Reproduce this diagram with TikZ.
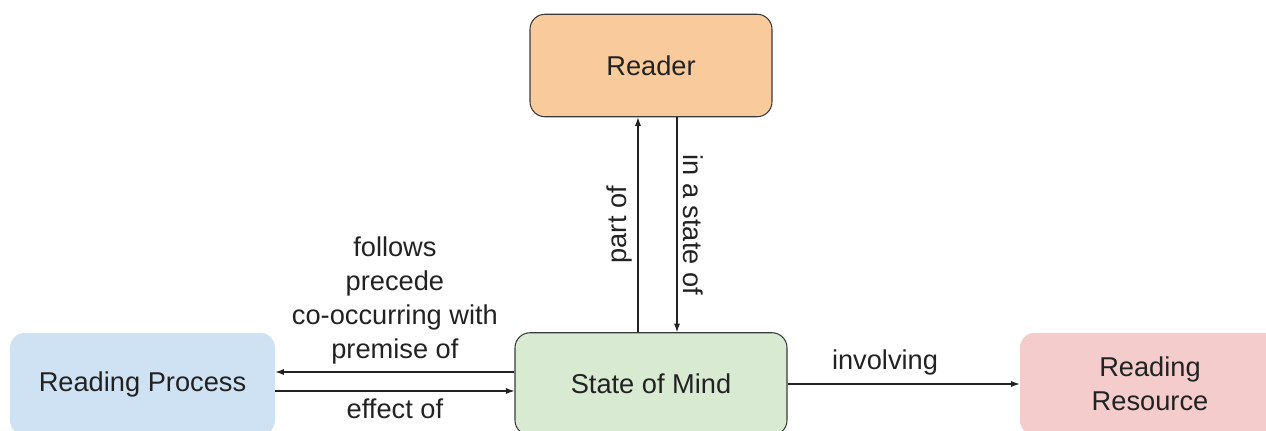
\documentclass[tikz,border=0pt]{standalone}
\usepackage{fontspec}
\setmainfont{Liberation Sans}
\usepackage{xcolor}
\usepackage{tikz}
\usetikzlibrary{arrows.meta,positioning,calc}
\definecolor{ink}{HTML}{222222}
\definecolor{edgegray}{HTML}{3A3A3A}
\definecolor{peach}{HTML}{F9CB9C}
\definecolor{mint}{HTML}{D9EAD3}
\definecolor{skyblue}{HTML}{CFE2F3}
\definecolor{rose}{HTML}{F4CCCC}

\begin{document}
\begin{tikzpicture}[every node/.style={font=\fontsize{15.5}{19.4}\selectfont,text=ink}, box/.style={rounded corners=3mm,minimum height=2.05cm,align=center,inner sep=2pt}, arr/.style={-{Latex[length=1.7mm,width=1.2mm]},line width=.6pt,draw=ink}]
\clip (0,0) rectangle (25.32,8.6);
\node[box,draw=edgegray,line width=.6pt,fill=peach,minimum width=4.84cm] (rdr) at (13.02,7.29) {Reader};
\node[box,draw=edgegray,line width=.6pt,fill=mint,minimum width=5.44cm]  (som) at (13.02,0.92) {State of Mind};
\node[box,fill=skyblue,minimum width=5.3cm] (proc) at (2.85,0.92) {Reading Process};
\node[box,fill=rose,minimum width=5.2cm]    (res)  at (23.0,0.92) {Reading\\Resource};
\draw[arr] ([xshift=-2.6mm]som.north) -- ([xshift=-2.6mm]rdr.south) node[midway,rotate=90,above,inner sep=3pt] {part of};
\draw[arr] ([xshift=5.2mm]rdr.south) -- ([xshift=5.2mm]som.north) node[midway,rotate=-90,above,inner sep=3pt] {in a state of};
\draw[arr] ([yshift=2.4mm]som.west) -- ([yshift=2.4mm]proc.east) node[midway,above,align=center,inner sep=4pt] {follows\\precede\\co-occurring with\\premise of};
\draw[arr] ([yshift=-1.4mm]proc.east) -- ([yshift=-1.4mm]som.west) node[midway,below,inner sep=4pt] {effect of};
\draw[arr] (som.east) -- (res.west) node[pos=.42,above,inner sep=5pt] {involving};
\end{tikzpicture}
\end{document}
